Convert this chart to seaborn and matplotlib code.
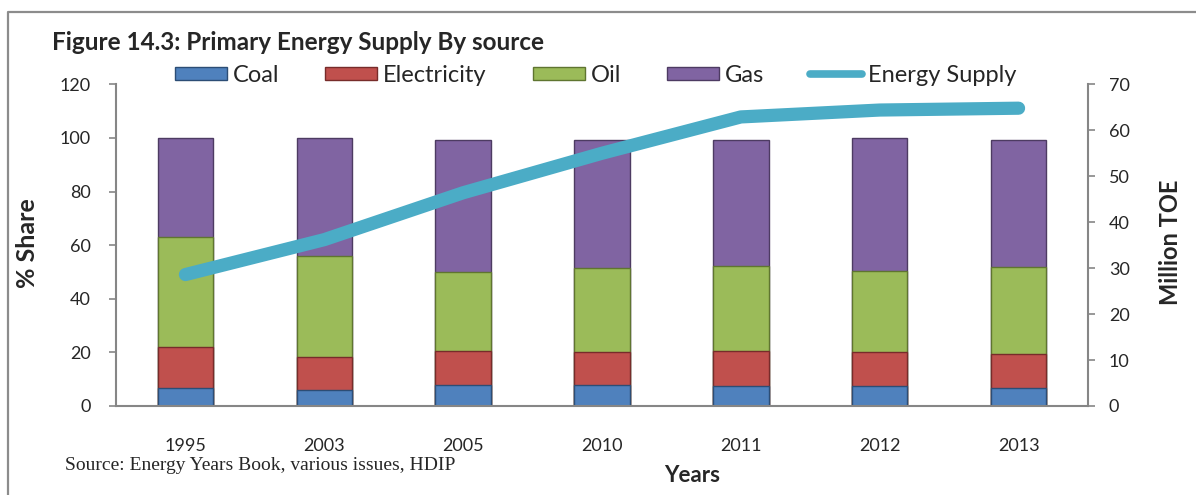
import numpy as np
import pandas as pd
import seaborn as sns
import matplotlib.pyplot as plt
from matplotlib.lines import Line2D
from matplotlib.patches import Patch

# data
years = ['1995', '2003', '2005', '2010', '2011', '2012', '2013']
coal = [6.9, 6.1, 8.0, 8.0, 7.4, 7.4, 6.8]
electricity = [15.2, 12.1, 12.5, 12.0, 13.1, 12.6, 12.7]
oil = [41.0, 37.9, 29.3, 31.4, 31.8, 30.5, 32.2]
gas = [36.9, 43.9, 49.6, 47.8, 47.1, 49.4, 47.5]
energy_supply = [28.6, 36.2, 46.4, 55.0, 62.9, 64.4, 64.8]  # Million TOE

sns.set_style('white')
plt.rcParams['font.family'] = ['Lato', 'DejaVu Sans']

df = pd.DataFrame({'year': years, 'Coal': coal, 'Electricity': electricity,
                   'Oil': oil, 'Gas': gas})
layers = ['Coal', 'Electricity', 'Oil', 'Gas']
colors = {'Coal': '#4F81BD', 'Electricity': '#C0504D', 'Oil': '#9BBB59', 'Gas': '#8064A2'}
edges = {'Coal': '#2C4D75', 'Electricity': '#772C2A', 'Oil': '#5F7530', 'Gas': '#4D3B62'}
line_color = '#4BACC6'
axis_gray = '#868686'

# cumulative heights for stacking
cum = df[layers].cumsum(axis=1)

fig = plt.figure(figsize=(11.96, 4.95), dpi=100)
ax = fig.add_axes([0.0970, 0.1798, 0.8127, 0.6499])

# draw from top layer down so lower segments sit on top
for name in reversed(layers):
    sns.barplot(x=df['year'], y=cum[name], color=colors[name], width=0.4,
                edgecolor=edges[name], linewidth=1.0, saturation=1, ax=ax)

ax.set_ylim(0, 120)
ax.set_yticks(range(0, 121, 20))
ax.set_xlim(-0.5, len(years) - 0.5)
ax.set_xlabel('')
ax.set_ylabel('')

# Excel style: ticks between categories, labels at centres
ax.set_xticks(np.arange(-0.5, len(years)), labels=[''] * (len(years) + 1))
ax.set_xticks(np.arange(len(years)), labels=years, minor=True)
ax.tick_params(axis='x', which='major', length=5, width=1.2, color=axis_gray, direction='out')
ax.tick_params(axis='x', which='minor', length=0, pad=23, labelsize=13)
ax.tick_params(axis='y', length=5, width=1.2, color=axis_gray, direction='out', pad=13, labelsize=13)

for side in ['left', 'bottom']:
    ax.spines[side].set_color(axis_gray)
    ax.spines[side].set_linewidth(1.5)
for side in ['top', 'right']:
    ax.spines[side].set_visible(False)

# energy supply on secondary axis
ax2 = ax.twinx()
x_pos = np.arange(len(years))
sns.lineplot(x=x_pos, y=energy_supply, color=line_color, linewidth=9.5,
             solid_capstyle='round', solid_joinstyle='round', ax=ax2)
ax2.set_ylim(0, 70)
ax2.set_yticks(range(0, 71, 10))
ax2.set_ylabel('')
ax2.tick_params(axis='y', length=5, width=1.2, color=axis_gray, direction='out', pad=10, labelsize=13)
ax2.spines['right'].set_color(axis_gray)
ax2.spines['right'].set_linewidth(1.5)
for side in ['top', 'left', 'bottom']:
    ax2.spines[side].set_visible(False)

# legend
handles = [Patch(facecolor=colors[n], edgecolor=edges[n], label=n) for n in layers]
handles.append(Line2D([], [], color=line_color, linewidth=5.5, solid_capstyle='round',
                      label='Energy Supply'))
fig.legend(handles=handles, loc='center', bbox_to_anchor=(0.498, 0.848), ncol=5,
           frameon=False, fontsize=17, handlelength=2.2, handleheight=0.5,
           handletextpad=0.25, columnspacing=1.95)

# texts
fig.text(52 / 1196, 1 - 42 / 495, 'Figure 14.3: Primary Energy Supply By source',
         fontsize=17.5, fontweight='bold', ha='left', va='center')
fig.text(28 / 1196, 1 - 243 / 495, '% Share', fontsize=18, fontweight='bold',
         rotation=90, ha='center', va='center')
fig.text(1170 / 1196, 1 - 242 / 495, 'Million TOE', fontsize=17, fontweight='bold',
         rotation=90, ha='center', va='center')
fig.text(692 / 1196, 1 - 476 / 495, 'Years', fontsize=16, fontweight='bold',
         ha='center', va='center')
fig.text(65 / 1196, 1 - 466 / 495, 'Source: Energy Years Book, various issues, HDIP',
         fontsize=14, family=['Liberation Serif', 'DejaVu Serif'], ha='left', va='center')

# outer frame (left and top edges)
fig.add_artist(Line2D([8 / 1196, 8 / 1196, 1.0], [0.0, 1 - 12 / 495, 1 - 12 / 495],
                      transform=fig.transFigure, color='#8C8C8C', linewidth=1.6))

fig.savefig('out.png', dpi=100)
